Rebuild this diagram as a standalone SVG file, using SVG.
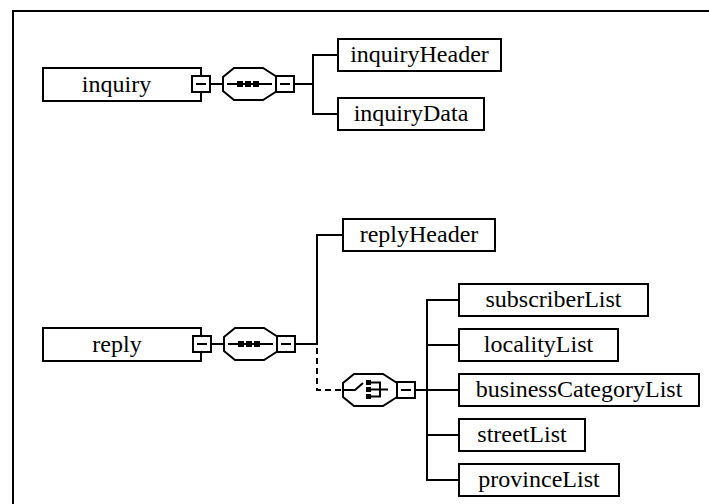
<svg xmlns="http://www.w3.org/2000/svg" width="709" height="504" viewBox="0 0 709 504">
<style>
.box{fill:#fff;stroke:#000;stroke-width:2}
.ln{fill:none;stroke:#000;stroke-width:2}
.dash{stroke-dasharray:6 4}
.sq{fill:#000}
.t{font-family:"Liberation Serif","Times New Roman",serif;font-size:24px;text-anchor:middle;fill:#000}
</style>
<rect width="709" height="504" fill="#fff"/>
<path class="ln" d="M13,504 V11 H709"/>
<g id="connectors">
  <path class="ln" d="M211,84 H223"/>
  <path class="ln" d="M295,84 H313"/>
  <path class="ln" d="M338,55 H313 V114 H338"/>
  <path class="ln" d="M212,344 H224"/>
  <path class="ln" d="M296,344 H317"/>
  <path class="ln" d="M342,235 H317 V345"/>
  <path class="ln dash" d="M317,348 V390 H342"/>
  <path class="ln" d="M416,390 H458"/>
  <path class="ln" d="M458,300 H427 V480 H458"/>
  <path class="ln" d="M427,345 H458 M427,435 H458"/>
</g>
<g id="inquiry">
  <rect class="box" x="43" y="68" width="158" height="33"/>
  <text class="t" x="116.5" y="91.5">inquiry</text>
  <rect class="box" x="192" y="76" width="18" height="16"/>
  <path class="ln" d="M196,84 H206"/>
</g>
<g id="inquiry-sequence">
  <polygon class="box" points="234,68 263,68 277,77 277,91 263,100 234,100 223,91 223,77"/>
  <path class="ln" d="M227,84 H272"/>
  <rect class="sq" x="237" y="81" width="6" height="6"/>
  <rect class="sq" x="245" y="81" width="6" height="6"/>
  <rect class="sq" x="253" y="81" width="6" height="6"/>
  <rect class="box" x="276" y="76" width="18" height="16"/>
  <path class="ln" d="M280,84 H290"/>
</g>
<g id="inquiryHeader">
  <rect class="box" x="338" y="39" width="163" height="32"/>
  <text class="t" x="419.5" y="62">inquiryHeader</text>
</g>
<g id="inquiryData">
  <rect class="box" x="338" y="98" width="146" height="32"/>
  <text class="t" x="411" y="121">inquiryData</text>
</g>
<g id="reply">
  <rect class="box" x="43" y="328" width="158" height="33"/>
  <text class="t" x="117" y="351.5">reply</text>
  <rect class="box" x="193" y="336" width="18" height="16"/>
  <path class="ln" d="M197,344 H207"/>
</g>
<g id="reply-sequence">
  <polygon class="box" points="235,328 264,328 278,337 278,351 264,360 235,360 224,351 224,337"/>
  <path class="ln" d="M228,344 H273"/>
  <rect class="sq" x="238" y="341" width="6" height="6"/>
  <rect class="sq" x="246" y="341" width="6" height="6"/>
  <rect class="sq" x="254" y="341" width="6" height="6"/>
  <rect class="box" x="277" y="336" width="18" height="16"/>
  <path class="ln" d="M281,344 H291"/>
</g>
<g id="replyHeader">
  <rect class="box" x="343" y="219" width="152" height="32"/>
  <text class="t" x="419" y="242">replyHeader</text>
</g>
<g id="reply-choice">
  <polygon class="box" points="354,374 383,374 397,383 397,397 383,406 354,406 343,397 343,383"/>
  <path class="ln" d="M344,390 H355 L363,383"/>
  <rect class="sq" x="366" y="380" width="5" height="5"/>
  <rect class="sq" x="366" y="387" width="5" height="5"/>
  <rect class="sq" x="366" y="394" width="5" height="5"/>
  <path class="ln" d="M371,382.5 H380 V396.5 H371 M371,389.5 H388"/>
  <rect class="box" x="397" y="382" width="18" height="16"/>
  <path class="ln" d="M401,390 H411"/>
</g>
<g id="subscriberList">
  <rect class="box" x="459" y="284" width="189" height="32"/>
  <text class="t" x="553.5" y="307">subscriberList</text>
</g>
<g id="localityList">
  <rect class="box" x="459" y="329" width="159" height="32"/>
  <text class="t" x="538.5" y="352">localityList</text>
</g>
<g id="businessCategoryList">
  <rect class="box" x="459" y="374" width="240" height="32"/>
  <text class="t" x="579" y="397">businessCategoryList</text>
</g>
<g id="streetList">
  <rect class="box" x="459" y="419" width="126" height="32"/>
  <text class="t" x="522" y="442">streetList</text>
</g>
<g id="provinceList">
  <rect class="box" x="459" y="464" width="160" height="32"/>
  <text class="t" x="539" y="487">provinceList</text>
</g>
</svg>
